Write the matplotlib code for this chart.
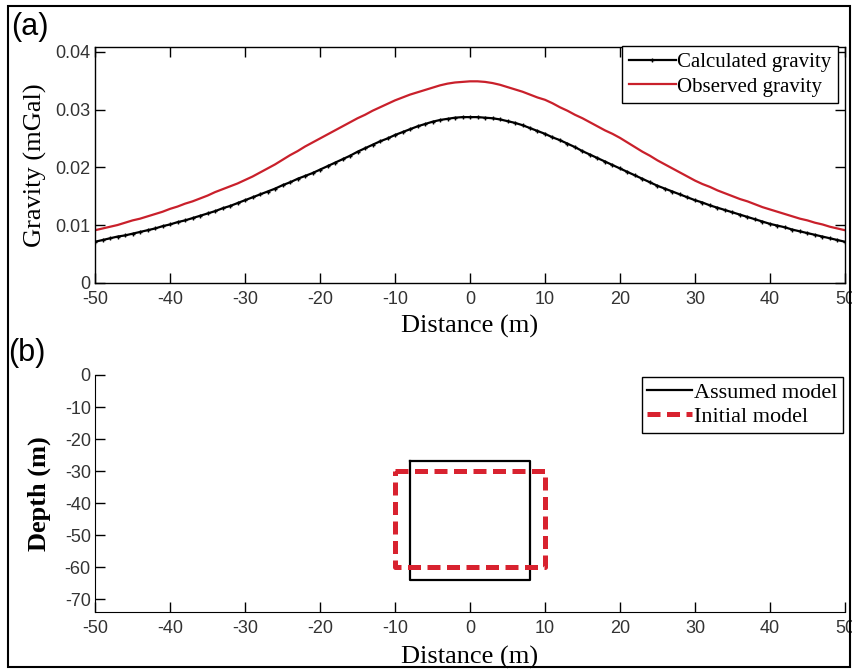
import numpy as np
import matplotlib
matplotlib.use("Agg")
import matplotlib.pyplot as plt
from matplotlib.patches import Rectangle

# ==============================
# DATOS
# ==============================

distancia = np.arange(-50, 51, 1)

g_calculada = [
    0.0071, 0.0074, 0.0077, 0.0080, 0.0082, 0.0085, 0.0088, 0.0091, 0.0094, 0.0098,
    0.0101, 0.0105, 0.0108, 0.0112, 0.0116, 0.0120, 0.0124, 0.0129, 0.0133, 0.0138,
    0.0143, 0.0148, 0.0153, 0.0158, 0.0163, 0.0169, 0.0174, 0.0180, 0.0185, 0.0190,
    0.0196, 0.0202, 0.0208, 0.0214, 0.0220, 0.0227, 0.0233, 0.0239, 0.0245, 0.0250,
    0.0256, 0.0261, 0.0266, 0.0271, 0.0275, 0.0279, 0.0282, 0.0284, 0.0286, 0.0287,
    0.0287,
    0.0287, 0.0286, 0.0285, 0.0283, 0.0280, 0.0277, 0.0273, 0.0268, 0.0263, 0.0258,
    0.0252, 0.0247, 0.0241, 0.0235, 0.0228, 0.0222, 0.0216, 0.0210, 0.0204, 0.0198,
    0.0192, 0.0186, 0.0180, 0.0174, 0.0168, 0.0163, 0.0158, 0.0153, 0.0148, 0.0143,
    0.0139, 0.0134, 0.0130, 0.0126, 0.0122, 0.0118, 0.0114, 0.0110, 0.0106, 0.0102,
    0.0099, 0.0096, 0.0092, 0.0089, 0.0086, 0.0083, 0.0080, 0.0077, 0.0074, 0.0071,
]

g_observada = [
    0.0091, 0.0094, 0.0097, 0.0100, 0.0104, 0.0108, 0.0111, 0.0115, 0.0119, 0.0123,
    0.0128, 0.0132, 0.0137, 0.0141, 0.0146, 0.0151, 0.0157, 0.0162, 0.0167, 0.0172,
    0.0178, 0.0184, 0.0191, 0.0198, 0.0205, 0.0213, 0.0221, 0.0228, 0.0236, 0.0243,
    0.0250, 0.0257, 0.0264, 0.0271, 0.0278, 0.0285, 0.0291, 0.0298, 0.0304, 0.0310,
    0.0316, 0.0321, 0.0326, 0.0330, 0.0334, 0.0338, 0.0342, 0.0345, 0.0347, 0.0348,
    0.0349,
    0.0349, 0.0348, 0.0346, 0.0343, 0.0339, 0.0335, 0.0331, 0.0326, 0.0321, 0.0317,
    0.0311, 0.0304, 0.0298, 0.0291, 0.0285, 0.0278, 0.0271, 0.0264, 0.0258, 0.0251,
    0.0243, 0.0235, 0.0227, 0.0220, 0.0212, 0.0205, 0.0198, 0.0191, 0.0184, 0.0177,
    0.0171, 0.0166, 0.0160, 0.0155, 0.0150, 0.0145, 0.0141, 0.0136, 0.0131, 0.0127,
    0.0123, 0.0119, 0.0115, 0.0111, 0.0108, 0.0104, 0.0101, 0.0097, 0.0094, 0.0091,
]

# modelos: [x_min, x_max, prof_min, prof_max]
modelo_supuesto = [-8, 8, -64, -27]
modelo_inicial = [-10, 10, -60, -30]

ticks_x = [-50, -40, -30, -20, -10, 0, 10, 20, 30, 40, 50]
ticks_g = [0, 0.01, 0.02, 0.03, 0.04]
ticks_prof = [0, -10, -20, -30, -40, -50, -60, -70]

# ==============================
# ESTILO
# ==============================

SERIF = "Liberation Serif"
SANS = "Liberation Sans"
ROJO = "#c9202b"
ROJO_DASH = "#d8222f"
GRIS = "#333333"


def estilo_ticks(ax, ticks_y, etiquetas_y):
    ax.set_xticks(ticks_x)
    ax.set_xticklabels([str(t) for t in ticks_x], fontfamily=SANS, fontsize=13, color=GRIS)
    ax.set_yticks(ticks_y)
    ax.set_yticklabels(etiquetas_y, fontfamily=SANS, fontsize=13, color=GRIS)
    ax.tick_params(direction="in", length=7, width=1)
    ax.tick_params(axis="x", pad=6)
    ax.tick_params(axis="y", pad=3)


def rectangulo(ax, caja, **kw):
    x0, x1, y0, y1 = caja
    xs = [x0, x1, x1, x0, x0]
    ys = [y1, y1, y0, y0, y1]
    return ax.plot(xs, ys, **kw)


# ==============================
# FIGURA
# ==============================

fig = plt.figure(figsize=(8.53, 6.70), dpi=100)

# marco exterior
fig.patches.append(Rectangle((0.009, 0.004), 0.988, 0.987, transform=fig.transFigure,
                             fill=False, edgecolor="black", linewidth=1.5))

# ---- panel (a): gravedad ----
ax1 = fig.add_axes([0.1114, 0.578, 0.8792, 0.3523])
ax1.plot(distancia, g_calculada, color="black", linewidth=1.6, marker="+",
         markersize=3.5, markeredgewidth=1.0, label="Calculated gravity")
ax1.plot(distancia, g_observada, color=ROJO, linewidth=1.6, label="Observed gravity")
ax1.set_xlim(-50, 50)
ax1.set_ylim(0, 0.0409)
estilo_ticks(ax1, ticks_g, ["0", "0.01", "0.02", "0.03", "0.04"])
ax1.tick_params(top=True, right=True)
ax1.set_xlabel("Distance (m)", fontfamily=SERIF, fontsize=19, labelpad=5)
ax1.set_ylabel("Gravity (mGal)", fontfamily=SERIF, fontsize=19, labelpad=6)
for s in ax1.spines.values():
    s.set_linewidth(1.0)
leg1 = ax1.legend(loc="upper right", bbox_to_anchor=(0.9824, 0.9313),
                  bbox_transform=fig.transFigure, prop={"family": SERIF, "size": 15},
                  frameon=True, fancybox=False, edgecolor="black", framealpha=1,
                  borderpad=0.3, labelspacing=0.25, handlelength=2.3,
                  handletextpad=0.05, borderaxespad=0)
leg1.get_frame().set_linewidth(1.0)

# ---- panel (b): modelos ----
ax2 = fig.add_axes([0.1114, 0.0866, 0.8792, 0.3537])
rectangulo(ax2, modelo_supuesto, color="black", linewidth=1.6, label="Assumed model")
rectangulo(ax2, modelo_inicial, color=ROJO_DASH, linewidth=3.6,
           linestyle=(0, (2.6, 1.3)), label="Initial model")
ax2.set_xlim(-50, 50)
ax2.set_ylim(-74, 0)
estilo_ticks(ax2, ticks_prof, [str(t) for t in ticks_prof])
ax2.spines["top"].set_visible(False)
ax2.spines["right"].set_visible(False)
ax2.set_xlabel("Distance (m)", fontfamily=SERIF, fontsize=19, labelpad=6)
ax2.set_ylabel("Depth (m)", fontfamily=SERIF, fontsize=19, fontweight="bold", labelpad=10)
leg2 = ax2.legend(loc="upper right", bbox_to_anchor=(0.9883, 0.4373),
                  bbox_transform=fig.transFigure, prop={"family": SERIF, "size": 16},
                  frameon=True, fancybox=False, edgecolor="black", framealpha=1,
                  borderpad=0.25, labelspacing=0.15, handlelength=2.0,
                  handletextpad=0.1, borderaxespad=0)
leg2.get_frame().set_linewidth(1.0)

# etiquetas de panel
fig.text(0.013, 0.982, "(a)", fontfamily=SANS, fontsize=22, va="top", ha="left")
fig.text(0.009, 0.495, "(b)", fontfamily=SANS, fontsize=22, va="top", ha="left")

fig.savefig("out.png", dpi=100)
